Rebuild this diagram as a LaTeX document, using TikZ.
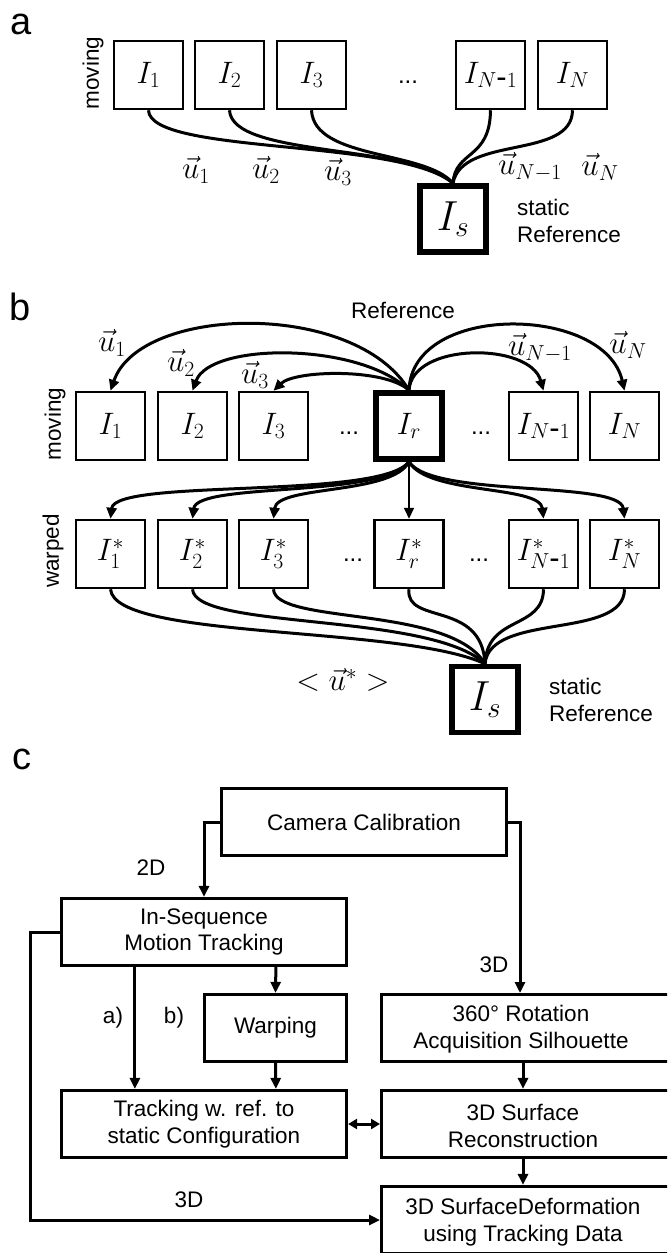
\RequirePackage{fix-cm}
\documentclass[tikz,border=0pt]{standalone}
\usepackage[no-math]{fontspec}
\setmainfont{Liberation Sans}
\usetikzlibrary{arrows.meta,calc}
\newcommand\mfont{\fontsize{31}{37}\selectfont}
\newcommand\bigmfont{\fontsize{42}{50}\selectfont}
\newcommand\tfont{\fontsize{22.5}{26.5}\selectfont}
\newcommand\letterfont{\fontsize{38}{44}\selectfont}
\tikzset{
  imgbox/.style={draw, line width=2.5pt, minimum width=69pt, minimum height=68pt, inner sep=0pt, font=\mfont},
  refbox/.style={imgbox, line width=5.5pt, minimum width=66pt, minimum height=66pt},
  lbl/.style={font=\tfont, inner sep=0pt},
  panel/.style={font=\letterfont, inner sep=0pt},
  mlbl/.style={font=\mfont, inner sep=0pt},
  dotsl/.style={font=\fontsize{24}{28}\selectfont, inner sep=0pt},
  conn/.style={line width=3pt},
  arr/.style={line width=3pt, -{Triangle[length=11pt,width=10pt]}},
  darr/.style={line width=3pt, {Triangle[length=9pt,width=10pt]}-{Triangle[length=9pt,width=10pt]}},
  flowbox/.style={draw, line width=2.7pt, minimum height=67.5pt, inner sep=0pt, align=center, font=\tfont},
}
\begin{document}
\begin{tikzpicture}[x=1pt,y=-1pt]
\useasboundingbox (0,0) rectangle (667,1253);
\clip (0,0) rectangle (667,1253);
\fill[white] (0,0) rectangle (667,1253);

% ---------- panel a ----------
\node[panel] (pa) at (21,24) {a};
\node[lbl, rotate=90] (amov) at (93,73) {moving};
\node[imgbox] (a1) at (148.5,75) {$I_1$};
\node[imgbox] (a2) at (229.5,75) {$I_2$};
\node[imgbox] (a3) at (311.5,75) {$I_3$};
\node[dotsl] (adots) at (408,82) {...};
\node[imgbox] (an1) at (490.5,75) {$I_{N\mbox{-}1}$};
\node[imgbox] (an) at (572.5,75) {$I_N$};
\node[refbox, font=\bigmfont] (as) at (453,219) {$I_s$};
\node[lbl, align=left, anchor=west] (astat) at (517,221) {static\\Reference};

\draw[conn] (a1.south) .. controls (150,155) and (400,138) .. (as.north);
\draw[conn] (a2.south) .. controls (232,158) and (410,143) .. (as.north);
\draw[conn] (a3.south) .. controls (314,160) and (425,150) .. (as.north);
\draw[conn] (an1.south) .. controls (490,160) and (455,150) .. (as.north);
\draw[conn] (an.south) .. controls (572,160) and (462,135) .. (as.north);

\node[mlbl] (au1) at (196,170) {$\vec{u}_1$};
\node[mlbl] (au2) at (266,170) {$\vec{u}_2$};
\node[mlbl] (au3) at (338,172) {$\vec{u}_3$};
\node[mlbl] (aun1) at (530,167) {$\vec{u}_{N-1}$};
\node[mlbl] (aun) at (600,167) {$\vec{u}_N$};

% ---------- panel b ----------
\node[panel] (pb) at (20.5,307) {b};
\node[lbl] (bref) at (403,310) {Reference};
\node[lbl, rotate=90] (bmov) at (55,424) {moving};
\node[lbl, rotate=90] (bwarp) at (53,551) {warped};

\node[imgbox] (b1) at (110.5,426) {$I_1$};
\node[imgbox] (b2) at (192.5,426) {$I_2$};
\node[imgbox] (b3) at (273.5,426) {$I_3$};
\node[dotsl] (bdots1) at (349,433) {...};
\node[refbox] (br) at (409,426) {$I_r$};
\node[dotsl] (bdots2) at (481,433) {...};
\node[imgbox] (bn1) at (543.5,426) {$I_{N\mbox{-}1}$};
\node[imgbox] (bn) at (624.5,426) {$I_N$};

\node[imgbox] (w1) at (110.5,554) {$I_1^*$};
\node[imgbox] (w2) at (192.5,554) {$I_2^*$};
\node[imgbox] (w3) at (273.5,554) {$I_3^*$};
\node[dotsl] (wdots1) at (353,560) {...};
\node[imgbox] (wr) at (409,554) {$I_r^*$};
\node[dotsl] (wdots2) at (479,560) {...};
\node[imgbox] (wn1) at (543.5,554) {$I_{N\mbox{-}1}^*$};
\node[imgbox] (wn) at (624.5,554) {$I_N^*$};

\node[refbox, font=\bigmfont] (bs) at (485,699.5) {$I_s$};
\node[lbl, align=left, anchor=west] (bstat) at (549,700) {static\\Reference};
\node[mlbl] (bavg) at (343,680) {$<\vec{u}^*>$};

% arcs Ir -> moving
\draw[arr] (br.north) .. controls (355,300) and (140,305) .. (b1.north);
\draw[arr] (br.north) .. controls (360,342) and (210,342) .. (b2.north);
\draw[arr] (br.north) .. controls (385,368) and (295,370) .. (b3.north);
\draw[arr] (br.north) .. controls (412,342) and (530,342) .. (bn1.north);
\draw[arr] (br.north) .. controls (412,302) and (605,305) .. (bn.north);

\node[mlbl] (bu1) at (112,343) {$\vec{u}_1$};
\node[mlbl] (bu2) at (181,363) {$\vec{u}_2$};
\node[mlbl] (bu3) at (255,375) {$\vec{u}_3$};
\node[mlbl] (bun1) at (540,348) {$\vec{u}_{N-1}$};
\node[mlbl] (bun) at (628,345) {$\vec{u}_N$};

% Ir -> warped
\draw[arr] (br.south) .. controls (380,500) and (115,478) .. (w1.north);
\draw[arr] (br.south) .. controls (385,498) and (197,482) .. (w2.north);
\draw[arr] (br.south) .. controls (392,495) and (277,485) .. (w3.north);
\draw[arr, line width=2pt] (br.south) -- (wr.north);
\draw[arr] (br.south) .. controls (428,495) and (540,485) .. (wn1.north);
\draw[arr] (br.south) .. controls (432,498) and (620,480) .. (wn.north);

% warped -> Is
\draw[conn] (w1.south) .. controls (115,640) and (400,625) .. (bs.north);
\draw[conn] (w2.south) .. controls (195,630) and (430,612) .. (bs.north);
\draw[conn] (w3.south) .. controls (275,625) and (450,605) .. (bs.north);
\draw[conn] (wr.south) .. controls (405,625) and (482,600) .. (bs.north);
\draw[conn] (wn1.south) .. controls (543,630) and (487,615) .. (bs.north);
\draw[conn] (wn.south) .. controls (624,640) and (490,612) .. (bs.north);

% ---------- panel c ----------
\node[panel] (pc) at (22,759) {c};
\node[flowbox, minimum width=285.5pt] (cam) at (364,822) {Camera Calibration};
\node[flowbox, minimum width=285.5pt] (inseq) at (204,932) {In-Sequence\\Motion Tracking};
\node[flowbox, minimum width=142.5pt] (warp) at (275.5,1028) {Warping};
\node[flowbox, minimum width=285.5pt] (track) at (204,1124) {Tracking w. ref. to\\static Configuration};
\node[flowbox, minimum width=400pt, anchor=west] (rot) at (380,1028) {};
\node[lbl, align=center] (rott) at (521,1029) {360° Rotation\\Acquisition Silhouette};
\node[flowbox, minimum width=400pt, anchor=west] (surf) at (380,1124) {};
\node[lbl, align=center] (surft) at (523,1126) {3D Surface\\Reconstruction};
\node[flowbox, minimum width=400pt, anchor=west] (def) at (380,1220) {};
\node[lbl, align=center] (deft) at (523,1222) {3D SurfaceDeformation\\using Tracking Data};

\coordinate (rotin) at (520,993);
\coordinate (feed) at (30,932);

\draw[arr] (cam.west) -| (inseq.north);
\draw[arr] (cam.east) -| (rotin);
\draw[arr] ($(inseq.south west)+(75,0)$) -- ($(track.north west)+(75,0)$);
\draw[arr] ($(inseq.south west)+(216,0)$) -- (warp.north);
\draw[arr] (warp.south) -- ($(track.north west)+(216,0)$);
\draw[arr] ($(rot.south west)+(143,0)$) -- ($(surf.north west)+(143,0)$);
\draw[arr] ($(surf.south west)+(143,0)$) -- ($(def.north west)+(143,0)$);
\draw[darr] (track.east) -- (surf.west);
\draw[arr] (inseq.west) -- (feed) |- (def.west);

\node[lbl] (l2d) at (151,868) {2D};
\node[lbl] (l3da) at (494,965) {3D};
\node[lbl] (l3db) at (189,1200) {3D};
\node[lbl] (la) at (113,1018) {a)};
\node[lbl] (lb) at (174,1018) {b)};
\end{tikzpicture}
\end{document}
